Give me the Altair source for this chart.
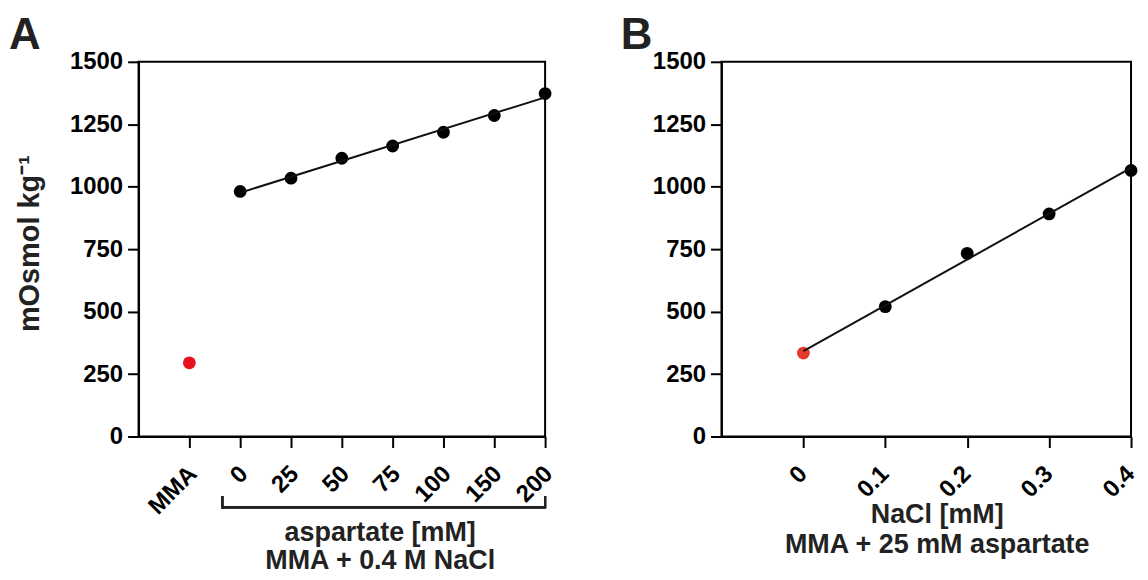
import altair as alt
import pandas as pd

# Panel A data
a_labels = ["MMA", "0", "25", "50", "75", "100", "150", "200"]
a_index = [0, 1, 2, 3, 4, 5, 6, 7]
a_values = [295, 981, 1034, 1114, 1163, 1218, 1285, 1373]
a_group = ["MMA", "asp", "asp", "asp", "asp", "asp", "asp", "asp"]

# Panel B data
b_nacl = [0.0, 0.1, 0.2, 0.3, 0.4]
b_values = [334, 520, 733, 891, 1065]
b_group = ["MMA", "salt", "salt", "salt", "salt"]

y_ticks = [0, 250, 500, 750, 1000, 1250, 1500]

FONT = "Liberation Sans"

df_a = pd.DataFrame({"idx": a_index, "label": a_labels, "value": a_values, "group": a_group})
df_b = pd.DataFrame({"nacl": b_nacl, "value": b_values, "group": b_group})

label_js = "[" + ",".join("'%s'" % s for s in a_labels) + "]"

ya = alt.Y("value:Q", scale=alt.Scale(domain=[0, 1500], nice=False),
           axis=alt.Axis(values=y_ticks, format="d", title="mOsmol kg⁻¹", titleFontSize=29,
                         titlePadding=25, titleY=182))
xa = alt.X("idx:Q", scale=alt.Scale(domain=[-1, 7], nice=False, zero=False),
           axis=alt.Axis(values=a_index, labelExpr=label_js + "[datum.value]",
                         labelAngle=-45, labelPadding=14, labelOffset=-5,
                         title=["aspartate [mM]", "MMA + 0.4 M NaCl"],
                         titleX=242, titleY=104, titleBaseline="alphabetic", titleLineHeight=28))

color_a = alt.Color("group:N", scale=alt.Scale(domain=["MMA", "asp"], range=["#e8101e", "#000000"]), legend=None)

pts_a = alt.Chart(df_a).mark_circle(size=165, opacity=1).encode(x=xa, y=ya, color=color_a)
line_a = alt.Chart(df_a).transform_filter("datum.group == 'asp'").transform_regression(
    "idx", "value").mark_line(color="#111111", strokeWidth=2).encode(x="idx:Q", y="value:Q")

bracket_h = alt.Chart(df_a).mark_rule(color="#222222", strokeWidth=2).encode(
    x=alt.value(84), x2=alt.value(408), y=alt.value(447))
bracket_l = alt.Chart(df_a).mark_rule(color="#222222", strokeWidth=2).encode(
    x=alt.value(84), y=alt.value(436), y2=alt.value(448))
bracket_r = alt.Chart(df_a).mark_rule(color="#222222", strokeWidth=2).encode(
    x=alt.value(408), y=alt.value(436), y2=alt.value(448))

chart_a = alt.layer(pts_a, line_a, bracket_h, bracket_l, bracket_r).properties(
    width=408, height=376,
    title=alt.Title("A", anchor="start", frame="group", dx=-130, fontSize=44,
                    font=FONT, fontWeight="bold", color="#222222", offset=-8))

yb = alt.Y("value:Q", scale=alt.Scale(domain=[0, 1500], nice=False),
           axis=alt.Axis(values=y_ticks, format="d", title=None))
xb = alt.X("nacl:Q", scale=alt.Scale(domain=[-0.1, 0.4], nice=False, zero=False),
           axis=alt.Axis(values=b_nacl, labelExpr="datum.value == 0 ? '0' : format(datum.value, '.1f')",
                         labelAngle=-45, labelPadding=14, labelOffset=-9,
                         title=["NaCl [mM]", "MMA + 25 mM aspartate"],
                         titleX=216, titleY=86, titleBaseline="alphabetic", titleLineHeight=30))
color_b = alt.Color("group:N", scale=alt.Scale(domain=["MMA", "salt"], range=["#e53a2a", "#000000"]), legend=None)

pts_b = alt.Chart(df_b).mark_circle(size=165, opacity=1).encode(x=xb, y=yb, color=color_b)
line_b = alt.Chart(df_b).transform_regression("nacl", "value").mark_line(
    color="#111111", strokeWidth=2).encode(x="nacl:Q", y="value:Q")

chart_b = alt.layer(pts_b, line_b).properties(
    width=411, height=376,
    title=alt.Title("B", anchor="start", frame="group", dx=-101, fontSize=44,
                    font=FONT, fontWeight="bold", color="#222222", offset=-8))

chart = alt.hconcat(chart_a, chart_b, spacing=62).resolve_scale(color="independent").properties(
    padding={"left": 0, "top": 4, "right": 0, "bottom": 0}, background="white"
).configure_view(stroke="#000000", strokeWidth=2).configure_axis(
    labelFont=FONT, labelFontWeight="bold", labelFontSize=24, labelColor="#000000",
    titleFont=FONT, titleFontWeight="bold", titleFontSize=27, titleColor="#222222",
    tickSize=11, tickWidth=2, tickColor="#000000", domainColor="#000000", domainWidth=2,
    grid=False, labelPadding=5
)

chart.save("out.html", embed_options={"renderer": "svg", "actions": False})
